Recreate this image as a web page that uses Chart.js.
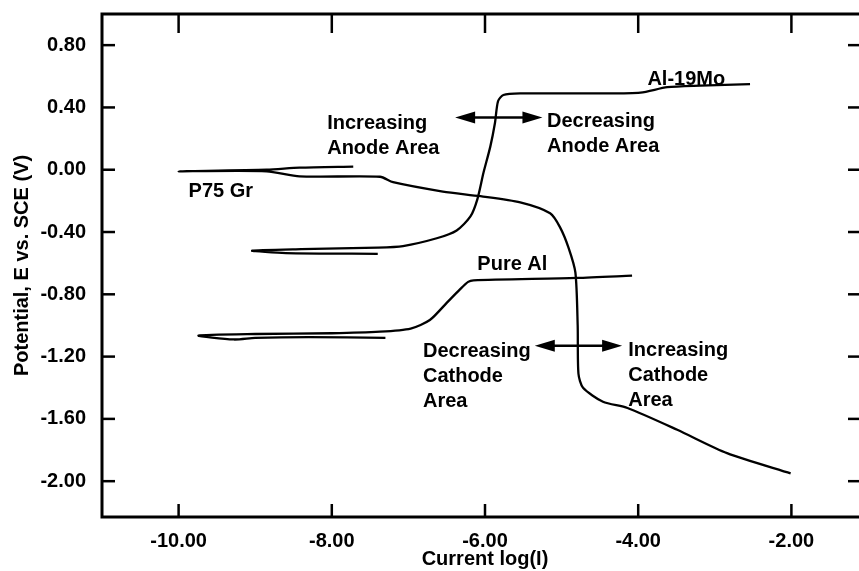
<!DOCTYPE html>
<html>
<head>
<meta charset="utf-8">
<script src="https://cdn.jsdelivr.net/npm/chart.js@4.4.1/dist/chart.umd.min.js"></script>
<style>
  html, body { margin: 0; padding: 0; background: #fff; overflow: hidden; }
</style>
</head>
<body>
<canvas id="polChart" width="880" height="571"></canvas>
<script>
// tick values of both axes
const xTicks = [-10, -8, -6, -4, -2];
const yTicks = [0.8, 0.4, 0, -0.4, -0.8, -1.2, -1.6, -2.0];

// P75 graphite scan: log(I) and potential (V vs SCE)
const p75GrLogI = [-7.72, -8.42, -8.85, -10.0, -8.85, -8.42, -7.37, -7.20, -6.55, -6.06, -5.54, -5.15, -5.02, -4.91, -4.82, -4.79, -4.78, -4.72, -4.46, -4.14, -3.49, -2.84, -2.01];
const p75GrE    = [0.02, 0.013, 0.0, -0.01, -0.01, -0.043, -0.045, -0.08, -0.14, -0.17, -0.21, -0.28, -0.37, -0.50, -0.66, -1.00, -1.31, -1.40, -1.49, -1.53, -1.67, -1.82, -1.95];

// Al-19Mo scan
const alMoLogI = [-7.40, -8.60, -9.04, -8.40, -7.40, -7.07, -6.63, -6.37, -6.19, -6.10, -6.02, -5.93, -5.87, -5.83, -5.76, -5.54, -4.49, -3.97, -3.62, -3.19, -2.54];
const alMoE    = [-0.54, -0.535, -0.52, -0.51, -0.50, -0.49, -0.44, -0.39, -0.30, -0.19, -0.02, 0.15, 0.30, 0.44, 0.48, 0.49, 0.49, 0.495, 0.53, 0.54, 0.55];

// pure aluminium scan
const pureAlLogI = [-7.30, -8.30, -9.00, -9.28, -9.74, -9.00, -8.00, -7.37, -6.97, -6.72, -6.50, -6.33, -6.22, -6.15, -4.80, -4.08];
const pureAlE    = [-1.08, -1.075, -1.08, -1.09, -1.065, -1.055, -1.05, -1.04, -1.02, -0.965, -0.855, -0.77, -0.72, -0.71, -0.695, -0.68];

// text notes on the plot (x, y of first line in data units)
const notes = [
  { lines: ['Increasing', 'Anode Area'], x: -8.06, y: 0.30 },
  { lines: ['Decreasing', 'Anode Area'], x: -5.19, y: 0.31 },
  { lines: ['Al-19Mo'], x: -3.88, y: 0.58 },
  { lines: ['P75 Gr'], x: -9.87, y: -0.14 },
  { lines: ['Pure Al'], x: -6.10, y: -0.61 },
  { lines: ['Decreasing', 'Cathode', 'Area'], x: -6.81, y: -1.165 },
  { lines: ['Increasing', 'Cathode', 'Area'], x: -4.13, y: -1.16 }
];

// double headed arrows
const arrows = [
  { x1: -6.39, x2: -5.25, y: 0.335 },
  { x1: -5.35, x2: -4.21, y: -1.13 }
];

function toPoints(xs, ys) {
  return xs.map((v, i) => ({ x: v, y: ys[i] }));
}

const FONT = "'Liberation Sans', Arial, Helvetica, sans-serif";
Chart.defaults.font.family = FONT;
Chart.defaults.font.weight = 'bold';
Chart.defaults.color = '#000';

// frame with inward ticks, like the original plot
const framePlugin = {
  id: 'frame',
  afterDraw(chart) {
    const { ctx, chartArea: a, scales: { x, y } } = chart;
    function line(x1, y1, x2, y2) {
      ctx.beginPath();
      ctx.moveTo(x1, y1);
      ctx.lineTo(x2, y2);
      ctx.stroke();
    }
    ctx.save();
    ctx.strokeStyle = '#000';
    ctx.lineWidth = 3;
    ctx.strokeRect(a.left, a.top, a.right - a.left, a.bottom - a.top);
    ctx.lineWidth = 2.5;
    xTicks.forEach(v => {
      const px = x.getPixelForValue(v);
      line(px, a.bottom, px, a.bottom - 13);
      line(px, a.top, px, a.top + 19);
    });
    yTicks.forEach(v => {
      const py = y.getPixelForValue(v);
      line(a.left, py, a.left + 13, py);
      line(a.right, py, a.right - 20, py);
    });
    ctx.restore();
  }
};

const notesPlugin = {
  id: 'notes',
  afterDatasetsDraw(chart) {
    const { ctx, scales: { x, y } } = chart;
    ctx.save();
    ctx.fillStyle = '#000';
    ctx.strokeStyle = '#000';
    ctx.font = 'bold 20px ' + FONT;
    ctx.textAlign = 'left';
    ctx.textBaseline = 'middle';
    notes.forEach(n => {
      const px = x.getPixelForValue(n.x);
      const py = y.getPixelForValue(n.y);
      n.lines.forEach((t, i) => ctx.fillText(t, px, py + i * 25));
    });
    ctx.lineWidth = 2.5;
    arrows.forEach(ar => {
      const a = x.getPixelForValue(ar.x1);
      const b = x.getPixelForValue(ar.x2);
      const py = y.getPixelForValue(ar.y);
      ctx.beginPath();
      ctx.moveTo(a + 10, py);
      ctx.lineTo(b - 10, py);
      ctx.stroke();
      ctx.beginPath();
      ctx.moveTo(a, py); ctx.lineTo(a + 20, py - 6); ctx.lineTo(a + 20, py + 6); ctx.closePath();
      ctx.moveTo(b, py); ctx.lineTo(b - 20, py - 6); ctx.lineTo(b - 20, py + 6); ctx.closePath();
      ctx.fill();
    });
    ctx.restore();
  }
};

const lineStyle = {
  showLine: true,
  pointRadius: 0,
  borderColor: '#000',
  borderWidth: 2.3,
  tension: 0.25,
  fill: false
};

new Chart(document.getElementById('polChart').getContext('2d'), {
  type: 'scatter',
  data: {
    datasets: [
      Object.assign({ label: 'P75 Gr', data: toPoints(p75GrLogI, p75GrE) }, lineStyle),
      Object.assign({ label: 'Al-19Mo', data: toPoints(alMoLogI, alMoE) }, lineStyle),
      Object.assign({ label: 'Pure Al', data: toPoints(pureAlLogI, pureAlE) }, lineStyle)
    ]
  },
  options: {
    responsive: false,
    animation: false,
    layout: { padding: { top: 14, right: 12, left: 0, bottom: 0 } },
    plugins: { legend: { display: false }, tooltip: { enabled: false } },
    scales: {
      x: {
        type: 'linear',
        min: -11,
        max: -1,
        afterBuildTicks: s => { s.ticks = xTicks.map(v => ({ value: v })); },
        afterFit: s => { s.height = 54; s.paddingLeft = 0; s.paddingRight = 0; },
        ticks: {
          callback: v => v.toFixed(2),
          padding: 12,
          maxRotation: 0,
          autoSkip: false,
          font: { size: 20, weight: 'bold' },
          color: '#000'
        },
        grid: { display: false, drawTicks: false },
        border: { display: false },
        title: {
          display: true,
          text: 'Current log(I)',
          font: { size: 20, weight: 'bold' },
          color: '#000',
          padding: { top: 0, bottom: 0 }
        }
      },
      y: {
        type: 'linear',
        min: -2.23,
        max: 1.0,
        afterBuildTicks: s => { s.ticks = yTicks.map(v => ({ value: v })); },
        afterFit: s => { s.width = 102; s.paddingTop = 0; s.paddingBottom = 0; },
        ticks: {
          callback: v => v.toFixed(2),
          padding: 16,
          autoSkip: false,
          font: { size: 20, weight: 'bold' },
          color: '#000'
        },
        grid: { display: false, drawTicks: false },
        border: { display: false },
        title: {
          display: true,
          text: 'Potential, E vs. SCE (V)',
          font: { size: 20, weight: 'bold' },
          color: '#000',
          padding: { top: 10, bottom: 0 }
        }
      }
    }
  },
  plugins: [framePlugin, notesPlugin]
});
</script>
</body>
</html>
